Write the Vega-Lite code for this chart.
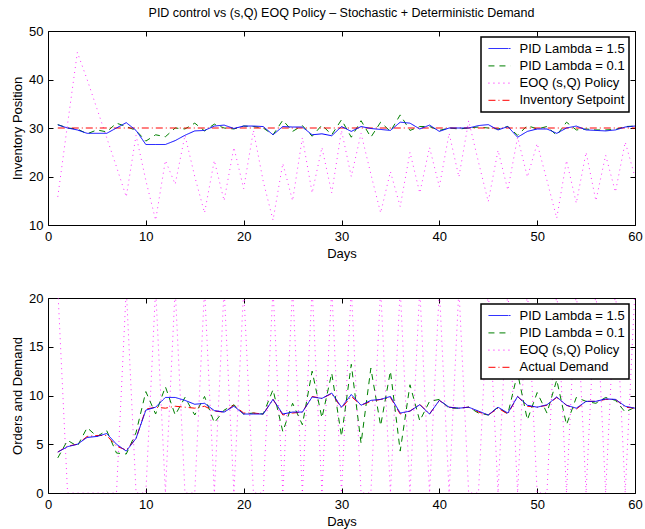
{
  "$schema": "https://vega.github.io/schema/vega-lite/v6.json",
  "background": "white",
  "padding": {"left": 11, "top": 6, "right": 5, "bottom": 5},
  "datasets": {
    "top": [
      {"day":1,"pid15":30.65,"pid01":30.7,"eoq":15.8},
      {"day":2,"pid15":30.0,"pid01":30.0,"eoq":30.8},
      {"day":3,"pid15":29.6,"pid01":29.8,"eoq":45.6},
      {"day":4,"pid15":28.9,"pid01":28.8,"eoq":40},
      {"day":5,"pid15":28.9,"pid01":29.6,"eoq":34},
      {"day":6,"pid15":28.9,"pid01":29.2,"eoq":28},
      {"day":7,"pid15":30.0,"pid01":31.0,"eoq":22},
      {"day":8,"pid15":31.1,"pid01":30.3,"eoq":15.8},
      {"day":9,"pid15":29.5,"pid01":29.5,"eoq":28.5},
      {"day":10,"pid15":26.6,"pid01":27.3,"eoq":19.2},
      {"day":11,"pid15":26.6,"pid01":28.6,"eoq":11},
      {"day":12,"pid15":26.6,"pid01":28.2,"eoq":23.3},
      {"day":13,"pid15":27.4,"pid01":30.0,"eoq":18.4},
      {"day":14,"pid15":28.5,"pid01":29.8,"eoq":28.5},
      {"day":15,"pid15":29.4,"pid01":31.0,"eoq":20},
      {"day":16,"pid15":29.5,"pid01":29.4,"eoq":12.5},
      {"day":17,"pid15":30.4,"pid01":30.8,"eoq":23.3},
      {"day":18,"pid15":30.6,"pid01":30.0,"eoq":15},
      {"day":19,"pid15":29.9,"pid01":29.8,"eoq":26},
      {"day":20,"pid15":30.4,"pid01":30.4,"eoq":17.5},
      {"day":21,"pid15":30.4,"pid01":30.3,"eoq":29.5},
      {"day":22,"pid15":30.3,"pid01":30.0,"eoq":19},
      {"day":23,"pid15":28.6,"pid01":28.6,"eoq":11},
      {"day":24,"pid15":30.3,"pid01":31.6,"eoq":22.7},
      {"day":25,"pid15":30.2,"pid01":29.3,"eoq":15},
      {"day":26,"pid15":30.2,"pid01":30.5,"eoq":28},
      {"day":27,"pid15":28.6,"pid01":28.3,"eoq":16.6},
      {"day":28,"pid15":28.8,"pid01":30.6,"eoq":26},
      {"day":29,"pid15":28.4,"pid01":28.6,"eoq":16.6},
      {"day":30,"pid15":30.3,"pid01":31.7,"eoq":29.5},
      {"day":31,"pid15":29.3,"pid01":28.1,"eoq":20},
      {"day":32,"pid15":30.3,"pid01":31.5,"eoq":28.9},
      {"day":33,"pid15":29.9,"pid01":28.1,"eoq":20.5},
      {"day":34,"pid15":29.7,"pid01":31.2,"eoq":12.5},
      {"day":35,"pid15":29.5,"pid01":29.3,"eoq":21},
      {"day":36,"pid15":31.2,"pid01":32.7,"eoq":13.8},
      {"day":37,"pid15":31.0,"pid01":29.5,"eoq":25},
      {"day":38,"pid15":29.8,"pid01":30.3,"eoq":16.6},
      {"day":39,"pid15":30.6,"pid01":30.3,"eoq":26},
      {"day":40,"pid15":29.3,"pid01":29.5,"eoq":17.9},
      {"day":41,"pid15":30.0,"pid01":30.0,"eoq":28.9},
      {"day":42,"pid15":30.0,"pid01":29.8,"eoq":19.9},
      {"day":43,"pid15":30.0,"pid01":30.0,"eoq":31.5},
      {"day":44,"pid15":30.5,"pid01":30.2,"eoq":23},
      {"day":45,"pid15":30.7,"pid01":30.0,"eoq":14.8},
      {"day":46,"pid15":29.6,"pid01":29.8,"eoq":25.4},
      {"day":47,"pid15":30.3,"pid01":30.3,"eoq":17.2},
      {"day":48,"pid15":28.1,"pid01":28.5,"eoq":28.1},
      {"day":49,"pid15":29.3,"pid01":30.5,"eoq":19.9},
      {"day":50,"pid15":29.8,"pid01":29.8,"eoq":26.8},
      {"day":51,"pid15":29.8,"pid01":30.3,"eoq":19.2},
      {"day":52,"pid15":28.9,"pid01":28.5,"eoq":11.4},
      {"day":53,"pid15":30.0,"pid01":31.2,"eoq":23.3},
      {"day":54,"pid15":30.4,"pid01":29.6,"eoq":14.5},
      {"day":55,"pid15":29.6,"pid01":29.8,"eoq":25},
      {"day":56,"pid15":29.5,"pid01":29.6,"eoq":15},
      {"day":57,"pid15":29.4,"pid01":29.6,"eoq":24.4},
      {"day":58,"pid15":29.6,"pid01":29.7,"eoq":16.8},
      {"day":59,"pid15":30.2,"pid01":30.3,"eoq":27.1},
      {"day":60,"pid15":30.4,"pid01":30.4,"eoq":19.9}
    ],
    "setpoint": [
      {"day":1,"setpoint":30},
      {"day":60,"setpoint":30}
    ],
    "bottom": [
      {"day":1,"pid15":4.2,"pid01":3.6,"demand":4.2,"eoq":21},
      {"day":2,"pid15":4.75,"pid01":5.4,"demand":4.8,"eoq":0},
      {"day":3,"pid15":5.0,"pid01":4.8,"demand":5.0,"eoq":0},
      {"day":4,"pid15":5.7,"pid01":6.7,"demand":5.8,"eoq":0},
      {"day":5,"pid15":5.8,"pid01":5.8,"demand":5.9,"eoq":0},
      {"day":6,"pid15":6.1,"pid01":6.4,"demand":5.9,"eoq":0},
      {"day":7,"pid15":5.0,"pid01":4.1,"demand":4.8,"eoq":0},
      {"day":8,"pid15":4.3,"pid01":4.0,"demand":4.4,"eoq":21},
      {"day":9,"pid15":5.6,"pid01":6.2,"demand":5.6,"eoq":0},
      {"day":10,"pid15":8.5,"pid01":10.4,"demand":8.6,"eoq":0},
      {"day":11,"pid15":8.8,"pid01":8.1,"demand":8.8,"eoq":21},
      {"day":12,"pid15":9.8,"pid01":10.9,"demand":8.7,"eoq":0},
      {"day":13,"pid15":9.8,"pid01":8.0,"demand":8.9,"eoq":21},
      {"day":14,"pid15":9.5,"pid01":9.8,"demand":8.8,"eoq":0},
      {"day":15,"pid15":9.1,"pid01":8.0,"demand":8.7,"eoq":0},
      {"day":16,"pid15":9.2,"pid01":9.9,"demand":8.9,"eoq":21},
      {"day":17,"pid15":8.45,"pid01":7.2,"demand":8.4,"eoq":0},
      {"day":18,"pid15":8.3,"pid01":8.5,"demand":8.3,"eoq":21},
      {"day":19,"pid15":8.9,"pid01":9.05,"demand":9.0,"eoq":0},
      {"day":20,"pid15":8.1,"pid01":8.1,"demand":8.2,"eoq":21},
      {"day":21,"pid15":8.1,"pid01":8.2,"demand":8.2,"eoq":0},
      {"day":22,"pid15":8.1,"pid01":8.1,"demand":8.1,"eoq":0},
      {"day":23,"pid15":9.6,"pid01":10.6,"demand":9.6,"eoq":21},
      {"day":24,"pid15":8.1,"pid01":6.3,"demand":8.0,"eoq":0},
      {"day":25,"pid15":8.3,"pid01":9.2,"demand":8.2,"eoq":21},
      {"day":26,"pid15":8.3,"pid01":7.0,"demand":8.3,"eoq":0},
      {"day":27,"pid15":9.85,"pid01":12.5,"demand":9.9,"eoq":21},
      {"day":28,"pid15":9.7,"pid01":7.7,"demand":9.7,"eoq":0},
      {"day":29,"pid15":10.25,"pid01":12.3,"demand":10.2,"eoq":21},
      {"day":30,"pid15":8.8,"pid01":5.8,"demand":8.7,"eoq":0},
      {"day":31,"pid15":10.1,"pid01":13.2,"demand":9.9,"eoq":21},
      {"day":32,"pid15":9.0,"pid01":5.1,"demand":9.0,"eoq":0},
      {"day":33,"pid15":9.5,"pid01":12.8,"demand":9.4,"eoq":0},
      {"day":34,"pid15":9.6,"pid01":6.9,"demand":9.6,"eoq":21},
      {"day":35,"pid15":9.9,"pid01":12.5,"demand":9.8,"eoq":0},
      {"day":36,"pid15":8.2,"pid01":4.3,"demand":8.1,"eoq":21},
      {"day":37,"pid15":8.4,"pid01":11.1,"demand":8.4,"eoq":0},
      {"day":38,"pid15":9.05,"pid01":7.4,"demand":9.1,"eoq":21},
      {"day":39,"pid15":8.1,"pid01":9.4,"demand":8.1,"eoq":0},
      {"day":40,"pid15":9.5,"pid01":9.6,"demand":9.5,"eoq":21},
      {"day":41,"pid15":8.8,"pid01":8.7,"demand":8.8,"eoq":0},
      {"day":42,"pid15":8.7,"pid01":8.7,"demand":8.7,"eoq":21},
      {"day":43,"pid15":8.8,"pid01":8.8,"demand":8.8,"eoq":0},
      {"day":44,"pid15":8.4,"pid01":8.2,"demand":8.3,"eoq":0},
      {"day":45,"pid15":8.0,"pid01":8.0,"demand":8.0,"eoq":21},
      {"day":46,"pid15":8.8,"pid01":8.8,"demand":8.7,"eoq":0},
      {"day":47,"pid15":8.2,"pid01":8.1,"demand":8.1,"eoq":21},
      {"day":48,"pid15":9.9,"pid01":12.3,"demand":9.9,"eoq":0},
      {"day":49,"pid15":9.0,"pid01":7.5,"demand":8.9,"eoq":21},
      {"day":50,"pid15":8.8,"pid01":10.3,"demand":8.8,"eoq":0},
      {"day":51,"pid15":9.05,"pid01":8.2,"demand":9.0,"eoq":0},
      {"day":52,"pid15":9.85,"pid01":11.6,"demand":9.8,"eoq":21},
      {"day":53,"pid15":9.0,"pid01":7.0,"demand":9.0,"eoq":0},
      {"day":54,"pid15":8.7,"pid01":9.8,"demand":8.6,"eoq":21},
      {"day":55,"pid15":9.4,"pid01":9.4,"demand":9.4,"eoq":0},
      {"day":56,"pid15":9.4,"pid01":9.2,"demand":9.4,"eoq":21},
      {"day":57,"pid15":9.65,"pid01":9.8,"demand":9.6,"eoq":0},
      {"day":58,"pid15":9.6,"pid01":9.5,"demand":9.6,"eoq":21},
      {"day":59,"pid15":8.9,"pid01":8.3,"demand":8.8,"eoq":0},
      {"day":60,"pid15":8.7,"pid01":8.8,"demand":8.7,"eoq":21}
    ]
  },
  "vconcat": [
    {
      "title": {"text": "PID control vs (s,Q) EOQ Policy – Stochastic + Deterministic Demand", "frame": "group", "anchor": "middle", "fontSize": 12.5, "fontWeight": "normal", "offset": 6, "color": "black"},
      "width": 587,
      "height": 194,
      "layer": [
        {
          "data": {"name": "top"},
          "mark": {"type": "line", "clip": true, "strokeWidth": 1, "opacity": 0.8},
          "encoding": {
            "x": {"field": "day", "type": "quantitative", "scale": {"domain": [0, 60], "nice": false}, "axis": {"orient": "bottom", "title": "Days", "values": [0, 10, 20, 30, 40, 50, 60]}},
            "y": {"field": "eoq", "type": "quantitative", "scale": {"domain": [10, 50], "nice": false}, "axis": {"orient": "left", "title": "Inventory Position", "values": [10, 20, 30, 40, 50]}},
            "color": {"datum": "EOQ (s,Q) Policy", "scale": {"domain": ["PID Lambda = 1.5", "PID Lambda = 0.1", "EOQ (s,Q) Policy", "Inventory Setpoint"], "range": ["#0000ff", "#008000", "#ff00ff", "#ff0000"]}, "legend": {"title": null}},
            "strokeDash": {"datum": "EOQ (s,Q) Policy", "scale": {"domain": ["PID Lambda = 1.5", "PID Lambda = 0.1", "EOQ (s,Q) Policy", "Inventory Setpoint"], "range": [[1, 0], [6, 5], [1, 4], [7, 3, 1, 3]]}, "legend": {"title": null}}
          }
        },
        {
          "data": {"name": "top"},
          "mark": {"type": "line", "clip": true, "strokeWidth": 1},
          "encoding": {
            "x": {"field": "day", "type": "quantitative", "axis": null},
            "y": {"field": "pid01", "type": "quantitative", "axis": null},
            "color": {"datum": "PID Lambda = 0.1"},
            "strokeDash": {"datum": "PID Lambda = 0.1"}
          }
        },
        {
          "data": {"name": "setpoint"},
          "mark": {"type": "line", "clip": true, "strokeWidth": 1},
          "encoding": {
            "x": {"field": "day", "type": "quantitative", "axis": null},
            "y": {"field": "setpoint", "type": "quantitative", "axis": null},
            "color": {"datum": "Inventory Setpoint"},
            "strokeDash": {"datum": "Inventory Setpoint"}
          }
        },
        {
          "data": {"name": "top"},
          "mark": {"type": "line", "clip": true, "strokeWidth": 1},
          "encoding": {
            "x": {"field": "day", "type": "quantitative", "axis": {"orient": "top", "labels": false, "title": null, "values": [0, 10, 20, 30, 40, 50, 60]}},
            "y": {"field": "pid15", "type": "quantitative", "axis": {"orient": "right", "labels": false, "title": null, "values": [10, 20, 30, 40, 50]}},
            "color": {"datum": "PID Lambda = 1.5"},
            "strokeDash": {"datum": "PID Lambda = 1.5"}
          }
        }
      ],
      "resolve": {"axis": {"x": "independent", "y": "independent"}}
    },
    {
      "width": 587,
      "height": 195,
      "layer": [
        {
          "data": {"name": "bottom"},
          "mark": {"type": "line", "clip": true, "strokeWidth": 1, "opacity": 0.8},
          "encoding": {
            "x": {"field": "day", "type": "quantitative", "scale": {"domain": [0, 60], "nice": false}, "axis": {"orient": "bottom", "title": "Days", "values": [0, 10, 20, 30, 40, 50, 60]}},
            "y": {"field": "eoq", "type": "quantitative", "scale": {"domain": [0, 20], "nice": false}, "axis": {"orient": "left", "title": "Orders and Demand", "values": [0, 5, 10, 15, 20]}},
            "color": {"datum": "EOQ (s,Q) Policy", "scale": {"domain": ["PID Lambda = 1.5", "PID Lambda = 0.1", "EOQ (s,Q) Policy", "Actual Demand"], "range": ["#0000ff", "#008000", "#ff00ff", "#ff0000"]}, "legend": {"title": null}},
            "strokeDash": {"datum": "EOQ (s,Q) Policy", "scale": {"domain": ["PID Lambda = 1.5", "PID Lambda = 0.1", "EOQ (s,Q) Policy", "Actual Demand"], "range": [[1, 0], [6, 5], [1, 4], [7, 3, 1, 3]]}, "legend": {"title": null}}
          }
        },
        {
          "data": {"name": "bottom"},
          "mark": {"type": "line", "clip": true, "strokeWidth": 1},
          "encoding": {
            "x": {"field": "day", "type": "quantitative", "axis": null},
            "y": {"field": "pid01", "type": "quantitative", "axis": null},
            "color": {"datum": "PID Lambda = 0.1"},
            "strokeDash": {"datum": "PID Lambda = 0.1"}
          }
        },
        {
          "data": {"name": "bottom"},
          "mark": {"type": "line", "clip": true, "strokeWidth": 1},
          "encoding": {
            "x": {"field": "day", "type": "quantitative", "axis": null},
            "y": {"field": "demand", "type": "quantitative", "axis": null},
            "color": {"datum": "Actual Demand"},
            "strokeDash": {"datum": "Actual Demand"}
          }
        },
        {
          "data": {"name": "bottom"},
          "mark": {"type": "line", "clip": true, "strokeWidth": 1},
          "encoding": {
            "x": {"field": "day", "type": "quantitative", "axis": {"orient": "top", "labels": false, "title": null, "values": [0, 10, 20, 30, 40, 50, 60]}},
            "y": {"field": "pid15", "type": "quantitative", "axis": {"orient": "right", "labels": false, "title": null, "values": [0, 5, 10, 15, 20]}},
            "color": {"datum": "PID Lambda = 1.5"},
            "strokeDash": {"datum": "PID Lambda = 1.5"}
          }
        }
      ],
      "resolve": {"axis": {"x": "independent", "y": "independent"}}
    }
  ],
  "spacing": 30,
  "resolve": {"scale": {"color": "independent", "strokeDash": "independent"}, "legend": {"color": "independent", "strokeDash": "independent"}},
  "config": {
    "font": "Liberation Sans",
    "view": {"stroke": "black", "strokeWidth": 1},
    "axis": {
      "grid": false,
      "domain": false,
      "ticks": true,
      "tickColor": "black",
      "tickSize": -5,
      "tickWidth": 1,
      "labelColor": "black",
      "labelFontSize": 13,
      "labelPadding": 10,
      "labelFlush": false,
      "labelOverlap": false,
      "titleColor": "black",
      "titleFontSize": 13,
      "titleFontWeight": "normal",
      "titlePadding": 4
    },
    "legend": {
      "orient": "top-right",
      "offset": 6,
      "strokeColor": "black",
      "strokeWidth": 1.5,
      "fillColor": "white",
      "padding": 4,
      "symbolType": "M-1.7,0H1.7",
      "symbolSize": 169,
      "symbolOffset": 7,
      "symbolStrokeWidth": 1.2,
      "labelFontSize": 13,
      "labelColor": "black",
      "labelOffset": 12.5,
      "rowPadding": 2.3,
      "labelLimit": 300
    }
  }
}
